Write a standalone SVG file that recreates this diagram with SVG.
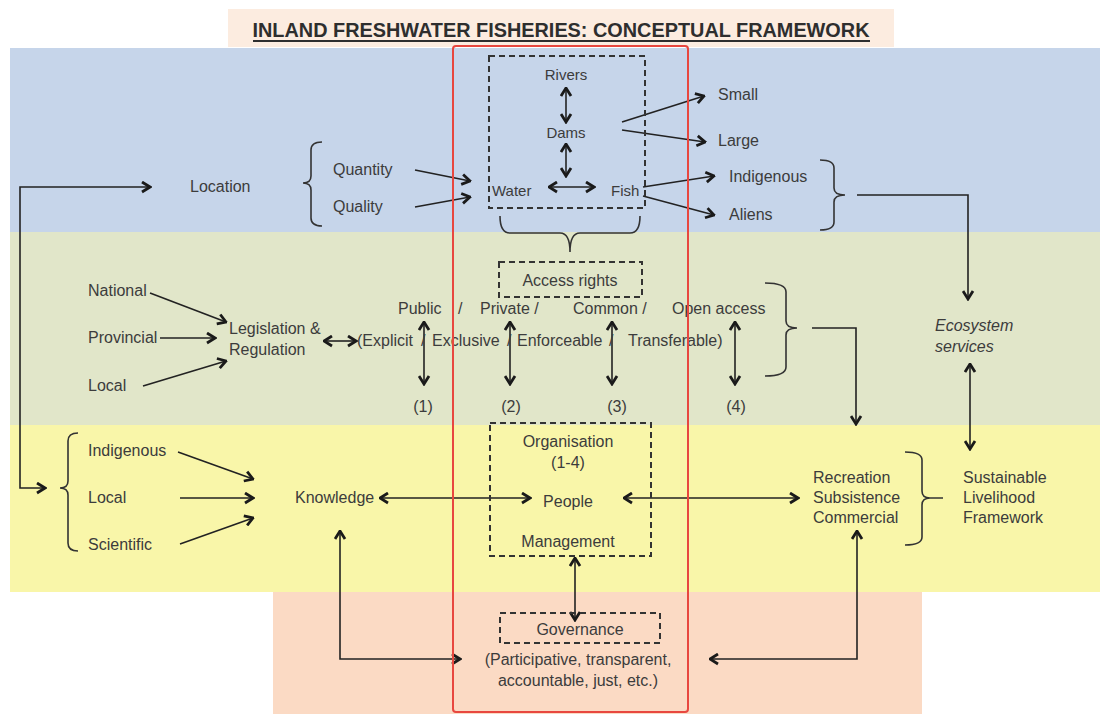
<svg xmlns="http://www.w3.org/2000/svg" width="1102" height="714" viewBox="0 0 1102 714">
  <style>
    .t { font-family: "Liberation Sans", Arial, sans-serif; font-size: 16px; fill: #3c3c3c; }
    .s { font-size: 15px; }
    .c { text-anchor: middle; }
    .it { font-style: italic; }
    .ln { stroke: #222; stroke-width: 1.6; fill: none; }
    .ar { marker-end: url(#ah); }
    .da { marker-start: url(#ah); marker-end: url(#ah); }
    .br { stroke: #333; stroke-width: 1.6; fill: none; }
    .dash { stroke: #333; stroke-width: 2; stroke-dasharray: 6 4; fill: none; }
  </style>
  <defs>
    <marker id="ah" viewBox="0 0 11 13" refX="9.5" refY="6.5" markerWidth="11" markerHeight="13" markerUnits="userSpaceOnUse" orient="auto-start-reverse">
      <path d="M1.5,1.5 L9.5,6.5 L1.5,11.5" stroke="#1a1a1a" stroke-width="2.8" fill="none" stroke-linejoin="miter"/>
    </marker>
  </defs>

  <rect width="1102" height="714" fill="#ffffff"/>

  <!-- background bands -->
  <g id="bands">
    <rect x="228" y="9" width="666" height="38" fill="#fcece0"/>
    <rect x="10" y="48" width="1090" height="184" fill="#c6d5ea"/>
    <rect x="10" y="232" width="1090" height="193" fill="#e1e6c9"/>
    <rect x="10" y="425" width="1090" height="167" fill="#f9f6a9"/>
    <rect x="273" y="592" width="649" height="122" fill="#fbdac4"/>
  </g>

  <!-- title -->
  <g id="title">
    <text x="561" y="37" text-anchor="middle" font-family="'Liberation Sans Narrow', 'Liberation Sans', Arial, sans-serif" font-size="21" font-weight="bold" fill="#2e2e2e" textLength="617" lengthAdjust="spacingAndGlyphs">INLAND FRESHWATER FISHERIES: CONCEPTUAL FRAMEWORK</text>
    <line x1="253" y1="41" x2="870" y2="41" stroke="#2e2e2e" stroke-width="1.8"/>
  </g>

  <!-- connectors -->
  <g id="connectors">
    <path class="ln da" d="M150,187 L20,187 L20,488 L45,488"/>
    <line class="ln ar" x1="415" y1="170" x2="470" y2="181"/>
    <line class="ln ar" x1="415" y1="207" x2="470" y2="197"/>
    <line class="ln da" x1="566" y1="88" x2="566" y2="122"/>
    <line class="ln da" x1="566" y1="144" x2="566" y2="176"/>
    <line class="ln da" x1="549" y1="187" x2="594" y2="187"/>
    <line class="ln ar" x1="622" y1="122" x2="704" y2="96"/>
    <line class="ln ar" x1="622" y1="130" x2="705" y2="142"/>
    <line class="ln ar" x1="643" y1="187" x2="714" y2="176"/>
    <line class="ln ar" x1="643" y1="196" x2="714" y2="215"/>
    <path class="ln ar" d="M857,195 L968,195 L968,299"/>
    <line class="ln da" x1="970" y1="364" x2="970" y2="449"/>
    <line class="ln ar" x1="150" y1="293" x2="226" y2="322"/>
    <line class="ln ar" x1="160" y1="338" x2="215" y2="338"/>
    <line class="ln ar" x1="143" y1="386" x2="226" y2="361"/>
    <line class="ln da" x1="324" y1="341" x2="356" y2="341"/>
    <line class="ln da" x1="424" y1="322" x2="424" y2="384"/>
    <line class="ln da" x1="510" y1="322" x2="510" y2="384"/>
    <line class="ln da" x1="612" y1="322" x2="612" y2="384"/>
    <line class="ln da" x1="735" y1="322" x2="735" y2="384"/>
    <path class="ln ar" d="M812,328 L856,328 L856,424"/>
    <line class="ln ar" x1="178" y1="452" x2="253" y2="479"/>
    <line class="ln ar" x1="180" y1="498" x2="253" y2="498"/>
    <line class="ln ar" x1="180" y1="544" x2="253" y2="518"/>
    <line class="ln da" x1="380" y1="498" x2="530" y2="498"/>
    <line class="ln da" x1="624" y1="498" x2="798" y2="498"/>
    <line class="ln da" x1="575" y1="558" x2="575" y2="620"/>
    <path class="ln da" d="M340,531 L340,659 L460,659"/>
    <path class="ln da" d="M857,531 L857,659 L710,659"/>
  </g>

  <!-- water / fish resource -->
  <g id="resource">
    <rect class="dash" x="489" y="56" width="156" height="152"/>
    <text class="t s c" x="566" y="80">Rivers</text>
    <text class="t s c" x="566" y="138">Dams</text>
    <text class="t s" x="492" y="196">Water</text>
    <text class="t s" x="611" y="196">Fish</text>
  </g>

  <g id="location">
    <text class="t" x="190" y="192">Location</text>
    <path class="br" d="M322,142 Q311,142 311,150 L311,176 Q311,183 303,183 Q311,183 311,190 L311,218 Q311,226 322,226"/>
    <text class="t" x="333" y="175">Quantity</text>
    <text class="t" x="333" y="212">Quality</text>
  </g>

  <g id="size">
    <text class="t" x="718" y="100">Small</text>
    <text class="t" x="718" y="146">Large</text>
  </g>

  <g id="origin">
    <text class="t" x="729" y="182">Indigenous</text>
    <text class="t" x="729" y="220">Aliens</text>
    <path class="br" d="M820,160 Q834,160 834,168 L834,188 Q834,195 845,195 M845,195 Q834,195 834,202 L834,222 Q834,230 820,230"/>
  </g>

  <g id="ecosystem">
    <text class="t it" x="935" y="331">Ecosystem</text>
    <text class="t it" x="935" y="352">services</text>
  </g>

  <g id="access-rights">
    <path class="br" d="M500,216 Q500,233 510,233 L560,233 Q570,233 570,252 Q570,233 580,233 L630,233 Q640,233 640,216"/>
    <rect class="dash" x="499" y="262" width="143" height="35"/>
    <text class="t c" x="570" y="286">Access rights</text>
  </g>

  <g id="legislation">
    <text class="t" x="88" y="296">National</text>
    <text class="t" x="88" y="343">Provincial</text>
    <text class="t" x="88" y="391">Local</text>
    <text class="t" x="229" y="334">Legislation &amp;</text>
    <text class="t" x="229" y="355">Regulation</text>
  </g>

  <g id="regimes">
    <text class="t" x="398" y="314">Public</text>
    <text class="t" x="458" y="314">/</text>
    <text class="t" x="480" y="314">Private /</text>
    <text class="t" x="573" y="314">Common /</text>
    <text class="t" x="672" y="314">Open access</text>
    <text class="t" x="357" y="346">(Explicit</text>
    <text class="t" x="421" y="346">/</text>
    <text class="t" x="432" y="346">Exclusive</text>
    <text class="t" x="507" y="346">/</text>
    <text class="t" x="517" y="346">Enforceable</text>
    <text class="t" x="609" y="346">/</text>
    <text class="t" x="628" y="346">Transferable)</text>
    <text class="t c" x="423" y="412">(1)</text>
    <text class="t c" x="511" y="412">(2)</text>
    <text class="t c" x="617" y="412">(3)</text>
    <text class="t c" x="736" y="412">(4)</text>
    <path class="br" d="M765,283 Q786,283 786,292 L786,321 Q786,328 797,328 M797,328 Q786,328 786,335 L786,367 Q786,376 765,376"/>
  </g>

  <g id="knowledge">
    <path class="br" d="M78,433 Q68,433 68,441 L68,481 Q68,488 60,488 M60,488 Q68,488 68,495 L68,543 Q68,551 78,551"/>
    <text class="t" x="88" y="456">Indigenous</text>
    <text class="t" x="88" y="503">Local</text>
    <text class="t" x="88" y="550">Scientific</text>
    <text class="t" x="295" y="503">Knowledge</text>
  </g>

  <g id="organisation">
    <rect class="dash" x="490" y="423" width="161" height="133"/>
    <text class="t c" x="568" y="447">Organisation</text>
    <text class="t c" x="568" y="468">(1-4)</text>
    <text class="t c" x="568" y="507">People</text>
    <text class="t c" x="568" y="547">Management</text>
  </g>

  <g id="uses">
    <text class="t" x="813" y="483">Recreation</text>
    <text class="t" x="813" y="503">Subsistence</text>
    <text class="t" x="813" y="523">Commercial</text>
    <path class="br" d="M905,452 Q922,452 922,460 L922,491 Q922,498 930,498 L943,498 M930,498 Q922,498 922,505 L922,537 Q922,545 905,545"/>
  </g>

  <g id="livelihood">
    <text class="t" x="963" y="483">Sustainable</text>
    <text class="t" x="963" y="503">Livelihood</text>
    <text class="t" x="963" y="523">Framework</text>
  </g>

  <g id="governance">
    <rect class="dash" x="500" y="613" width="160" height="30"/>
    <text class="t c" x="580" y="635">Governance</text>
    <text class="t c" x="578" y="665">(Participative, transparent,</text>
    <text class="t c" x="578" y="686">accountable, just, etc.)</text>
  </g>

  <!-- core frame -->
  <g id="frame">
    <rect x="453" y="46" width="235" height="666" rx="3" fill="none" stroke="#e8473f" stroke-width="2"/>
  </g>
</svg>
